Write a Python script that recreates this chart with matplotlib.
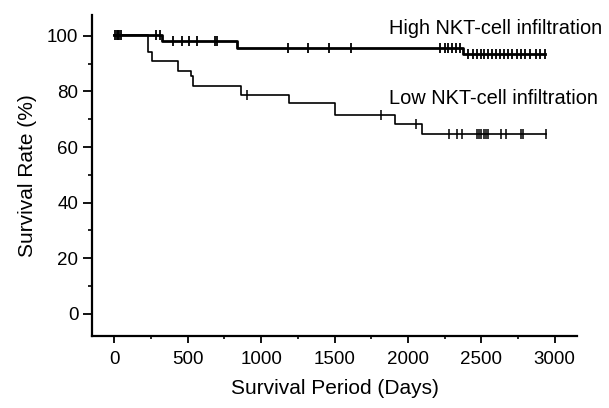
import numpy as np
import matplotlib
matplotlib.use("Agg")
import matplotlib.pyplot as plt
from matplotlib.ticker import MultipleLocator

plt.rcParams["font.family"] = ["Liberation Sans", "DejaVu Sans"]

# Kaplan-Meier step data (day of event, survival % after event)
high_days = [0, 323, 833, 2374, 2932]
high_surv = [100.3, 98.1, 95.5, 93.5, 93.5]
high_cens = [5, 15, 25, 35, 45, 285, 312,
             397, 459, 508, 565, 688, 698,
             1180, 1317, 1464, 1611,
             2220, 2250, 2275, 2300, 2330, 2355,
             2410, 2440, 2470, 2495, 2520, 2545, 2570, 2600, 2630, 2655,
             2680, 2710, 2740, 2770, 2800, 2830, 2870, 2900, 2932]

low_days = [0, 232, 254, 431, 522, 538, 860, 1191, 1502, 1911, 2097, 2943]
low_surv = [100.3, 94.1, 90.9, 87.5, 85.4, 81.9, 78.6, 75.8, 71.7, 68.4, 64.6, 64.6]
low_cens = [901, 1820, 2054, 2278, 2337, 2371,
            2468, 2484, 2500, 2515, 2530, 2546,
            2637, 2671, 2769, 2784, 2943]

high_label = "High NKT-cell infiltration"
low_label = "Low NKT-cell infiltration"


def surv_at(days, surv, t):
    idx = np.searchsorted(days, t, side="right") - 1
    return np.array(surv)[idx]


fig = plt.figure(figsize=(6.09, 4.08), dpi=100)
ax = fig.add_axes([0.1516, 0.1765, 0.7954, 0.7865])

ax.step(high_days, high_surv, where="post", color="black", lw=2.0)
ax.plot(high_cens, surv_at(high_days, high_surv, high_cens), ls="none",
        marker="|", ms=7, mew=1.3, color="black")

ax.step(low_days, low_surv, where="post", color="black", lw=1.2)
ax.plot(low_cens, surv_at(low_days, low_surv, low_cens), ls="none",
        marker="|", ms=7, mew=1.1, color="black")

ax.text(1870, 102.7, high_label, fontsize=14.4, va="center", ha="left")
ax.text(1870, 77.6, low_label, fontsize=14.4, va="center", ha="left")

ax.set_xlim(-150, 3150)
ax.set_ylim(-8, 107.5)
ax.xaxis.set_major_locator(MultipleLocator(500))
ax.xaxis.set_minor_locator(MultipleLocator(250))
ax.yaxis.set_major_locator(MultipleLocator(20))
ax.yaxis.set_minor_locator(MultipleLocator(10))

for s in ["top", "right"]:
    ax.spines[s].set_visible(False)
for s in ["left", "bottom"]:
    ax.spines[s].set_linewidth(1.6)

ax.tick_params(axis="x", which="major", direction="out", length=5, width=1.3, labelsize=13.5, pad=5.5)
ax.tick_params(axis="x", which="minor", direction="out", length=2, width=1.2)
ax.tick_params(axis="y", which="major", direction="out", length=6.5, width=1.3, labelsize=13.5, pad=3.5)
ax.tick_params(axis="y", which="minor", direction="out", length=3, width=1.2)

ax.set_xlabel("Survival Period (Days)", fontsize=15, labelpad=8)
ax.set_ylabel("Survival Rate (%)", fontsize=15, labelpad=7)

fig.savefig("out.png", dpi=100)
